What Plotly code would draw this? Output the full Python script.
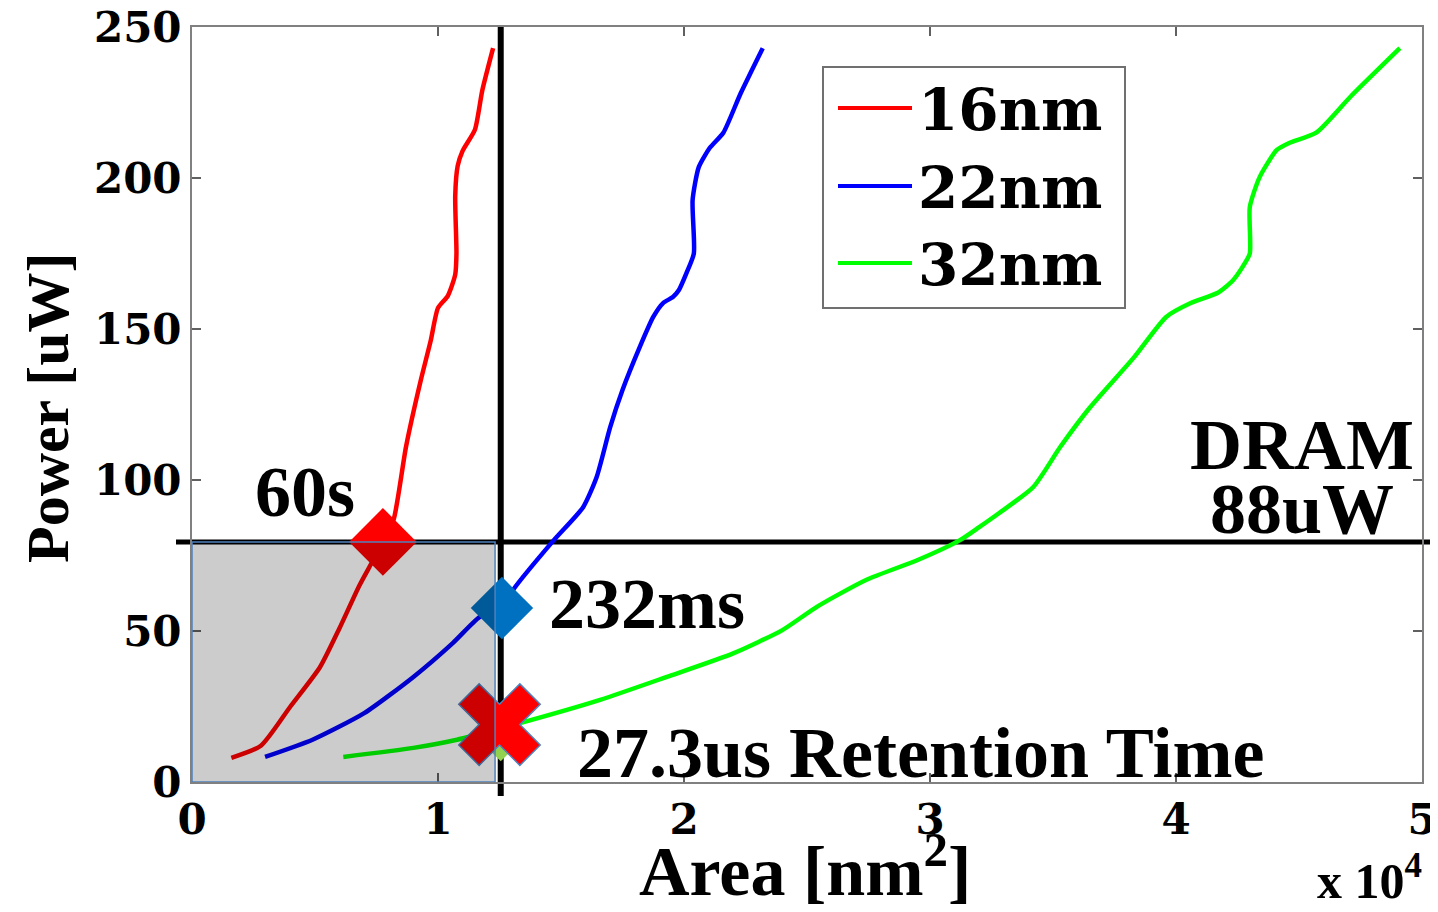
import plotly.graph_objects as go

# ---------------- data (area in nm^2, power in uW) ----------------
series_names = ["16nm", "22nm", "32nm"]
series_colors = ["#ff0000", "#0000ff", "#00ff00"]

red_x = [1600, 2800, 4000, 5200, 6000, 6800, 7300, 7760, 8200, 8700, 9300, 9700,
         10000, 10400, 10700, 10750, 10700, 10800, 11000, 11500, 11800, 12240]
red_y = [8, 12, 25, 38, 51, 65, 72.5, 79.5, 87, 111, 133, 146,
         157, 161, 168, 175, 194, 204, 209, 216, 229, 243]

blue_x = [2970, 4900, 7000, 9000, 10600, 11700, 12600, 13050, 14700, 15900, 16450,
          17000, 17500, 18200, 18750, 19150, 19550, 19800, 20100, 20400, 20350,
          20600, 21050, 21600, 22300, 23200]
blue_y = [8.3, 14, 22.8, 34.8, 46, 54.7, 57.6, 63.6, 80, 91, 101,
          117.5, 129.8, 144, 154, 158.6, 160.6, 163, 168.5, 175, 192.7,
          203.6, 210, 215, 228, 243]

green_x = [6150, 9000, 10770, 11700, 13330, 16590, 19300, 22000, 24000, 25400,
           27400, 29500, 31200, 32000, 32800, 34200, 35300, 36500, 38300, 39600,
           40600, 41700, 42300, 42700, 43000, 43000, 43400, 44100, 44600, 45700,
           47100, 49100]
green_y = [8.3, 11.3, 14, 16, 19.5, 27.2, 34.8, 42.6, 50.3, 58,
           66.9, 73.5, 80, 84.4, 89, 97.7, 111, 124, 140.7, 154,
           158.6, 162, 166, 170.5, 175, 190.4, 200.3, 209.3, 211.6, 215,
           227, 243]

# highlighted operating points
dram_power = 79.5          # DRAM power level line
area_limit = 12550         # area limit line
pt16 = (7760, 79.5)        # 60s
pt22 = (12600, 57.6)       # 232ms
pt32 = (12500, 19.0)       # 27.3us (failing point)
pt32_under = (12550, 12.0)
shade_x1 = 12320

x_tickvals = [0, 10000, 20000, 30000, 40000, 50000]
x_ticktext = ["0", "1", "2", "3", "4", "5"]
y_tickvals = [0, 50, 100, 150, 200, 250]
X_RANGE = [0, 50000]
Y_RANGE = [0, 250]

# ---------------- layout helpers ----------------
# The page body adds an 8px offset, so the figure is drawn 8px smaller
OFF = 8
W, H = 1438 - OFF, 912 - OFF
PL, PR, PT, PB = 192, 1422, 27, 782     # plot area in page pixels
ML, MT = PL - OFF, PT - OFF
MR, MB = W - (PR - OFF), H - (PB - OFF)
PW, PH = PR - PL, PB - PT


def px_x(p):
    return (p - PL) / PW


def px_y(p):
    return (PB - p) / PH


def data_to_paper_x(v):
    return (v - X_RANGE[0]) / (X_RANGE[1] - X_RANGE[0])


def data_to_paper_y(v):
    return (v - Y_RANGE[0]) / (Y_RANGE[1] - Y_RANGE[0])


SERIF = "Liberation Serif"
WIDE = "DejaVu Serif"

fig = go.Figure()
for xs, ys, name, col in zip([red_x, blue_x, green_x], [red_y, blue_y, green_y],
                             series_names, series_colors):
    fig.add_trace(go.Scatter(x=xs, y=ys, mode="lines", name=name,
                             line=dict(color=col, width=4.5, shape="spline", smoothing=0.6),
                             showlegend=False, hoverinfo="skip"))

# markers
fig.add_trace(go.Scatter(x=[pt16[0]], y=[pt16[1]], mode="markers", showlegend=False,
                         marker=dict(symbol="diamond", size=52, color="#ff0000",
                                     line=dict(width=0))))
fig.add_trace(go.Scatter(x=[pt22[0]], y=[pt22[1]], mode="markers", showlegend=False,
                         marker=dict(symbol="diamond", size=48, color="#0070c0",
                                     line=dict(width=0))))
fig.add_trace(go.Scatter(x=[pt32_under[0]], y=[pt32_under[1]], mode="markers", showlegend=False,
                         marker=dict(symbol="diamond", size=24, color="#92d050",
                                     line=dict(width=0))))
fig.add_trace(go.Scatter(x=[pt32[0]], y=[pt32[1]], mode="markers", showlegend=False,
                         marker=dict(symbol="x", size=72, color="#ff0000",
                                     line=dict(width=1.5, color="#4f81bd"))))

shapes = []
# black reference lines
shapes.append(dict(type="line", xref="paper", yref="paper", layer="below",
                   x0=px_x(176), x1=px_x(1440), y0=data_to_paper_y(dram_power),
                   y1=data_to_paper_y(dram_power), line=dict(color="black", width=5)))
shapes.append(dict(type="line", xref="paper", yref="paper", layer="below",
                   x0=data_to_paper_x(area_limit), x1=data_to_paper_x(area_limit),
                   y0=px_y(796), y1=px_y(27), line=dict(color="black", width=6)))
# shaded feasible region
shapes.append(dict(type="rect", xref="x", yref="y", layer="above",
                   x0=0, x1=shade_x1, y0=0, y1=dram_power,
                   fillcolor="rgba(0,0,0,0.2)", line=dict(color="#4f81bd", width=1.5)))

# manual legend
shapes.append(dict(type="rect", xref="paper", yref="paper", layer="above",
                   x0=px_x(823), x1=px_x(1125), y0=px_y(308), y1=px_y(67),
                   fillcolor="white", line=dict(color="#707070", width=2)))
annotations = []
rows = [108, 186, 263]
for name, col, ry in zip(series_names, series_colors, rows):
    shapes.append(dict(type="line", xref="paper", yref="paper", layer="above",
                       x0=px_x(838), x1=px_x(912), y0=px_y(ry), y1=px_y(ry),
                       line=dict(color=col, width=4)))
    annotations.append(dict(xref="paper", yref="paper", x=px_x(916), y=px_y(ry + 2),
                            xanchor="left", yanchor="middle", showarrow=False, text=name,
                            font=dict(family=WIDE, size=58, color="black", weight="bold")))

big = dict(family=SERIF, size=72, color="black", weight="bold")
annotations += [
    dict(x=4593, y=96, xref="x", yref="y", text="60s", showarrow=False,
         xanchor="center", yanchor="middle", font=big),
    dict(x=14450, y=59, xref="x", yref="y", text="232ms", showarrow=False,
         xanchor="left", yanchor="middle", font=big),
    dict(x=15550, y=9.5, xref="x", yref="y", text="27.3us Retention Time", showarrow=False,
         xanchor="left", yanchor="middle", font=big),
    dict(x=45120, y=111.5, xref="x", yref="y", text="DRAM", showarrow=False,
         xanchor="center", yanchor="middle", font=big),
    dict(x=45120, y=90.5, xref="x", yref="y", text="88uW", showarrow=False,
         xanchor="center", yanchor="middle", font=big),
    # axis titles
    dict(x=px_x(48), y=px_y(408), xref="paper", yref="paper", text="Power [uW]", textangle=-90,
         showarrow=False, xanchor="center", yanchor="middle",
         font=dict(family=SERIF, size=60, color="black", weight="bold")),
    dict(x=px_x(805), y=px_y(912), xref="paper", yref="paper", text="Area [nm<sup>2</sup>]",
         showarrow=False, xanchor="center", yanchor="bottom",
         font=dict(family=SERIF, size=70, color="black", weight="bold")),
    dict(x=px_x(1424), y=px_y(911), xref="paper", yref="paper", text="x 10<sup>4</sup>",
         showarrow=False, xanchor="right", yanchor="bottom",
         font=dict(family=SERIF, size=50, color="black", weight="bold")),
]

tickfont = dict(family=WIDE, size=42, color="black", weight="bold")
axis_common = dict(showgrid=False, zeroline=False, showline=True, linecolor="#808080",
                   linewidth=2, mirror="ticks", ticks="inside", ticklen=9, tickwidth=2,
                   tickcolor="#606060", tickfont=tickfont, ticklabeloverflow="allow")

fig.update_layout(
    width=W, height=H,
    margin=dict(l=ML, r=MR, t=MT, b=MB, autoexpand=False),
    paper_bgcolor="white", plot_bgcolor="rgba(0,0,0,0)",
    xaxis=dict(range=X_RANGE, tickvals=x_tickvals, ticktext=x_ticktext, **axis_common),
    yaxis=dict(range=Y_RANGE, tickvals=y_tickvals, **axis_common),
    shapes=shapes, annotations=annotations, showlegend=False,
)

fig.write_html("out.html")
